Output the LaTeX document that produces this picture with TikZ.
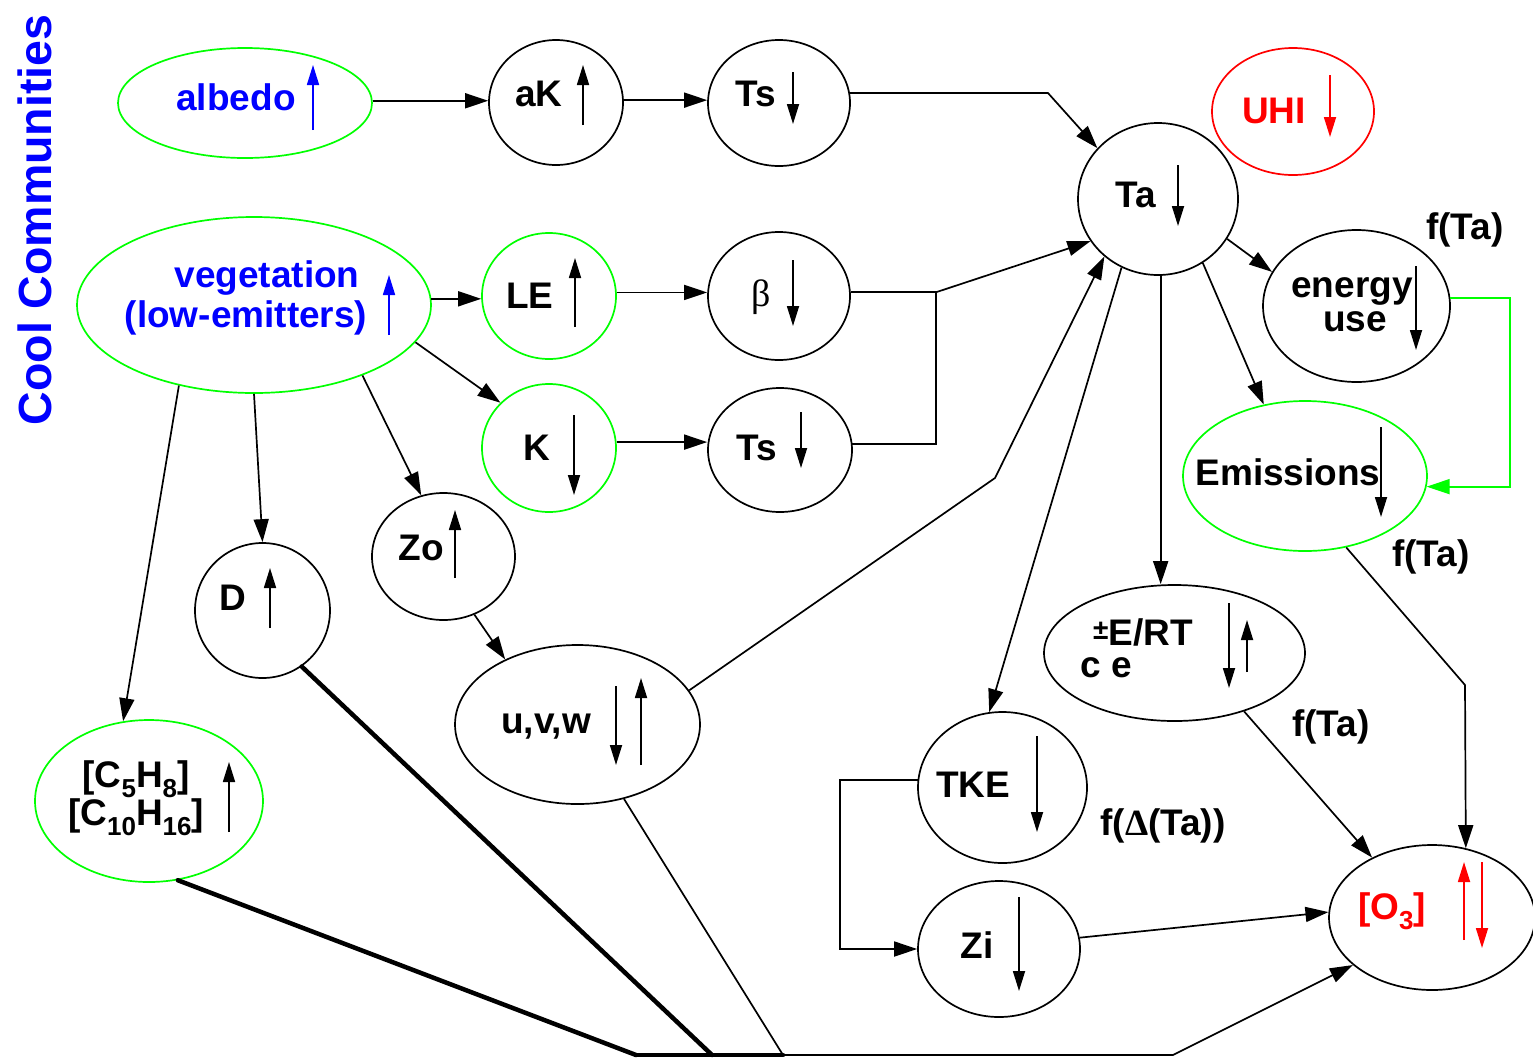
\documentclass[tikz,border=0pt]{standalone}
\usepackage{fontspec}
\setmainfont{Liberation Sans}
\newfontfamily\serifsym{Liberation Serif}
\usetikzlibrary{shapes.geometric,arrows.meta}
\newcommand\lbfont{\fontsize{37}{40}\selectfont\bfseries}
\newcommand\subsc[1]{\raisebox{-0.28em}{\fontsize{26}{26}\selectfont #1}}
\definecolor{pgreen}{RGB}{0,255,0}
\definecolor{pblue}{RGB}{0,0,255}
\definecolor{pred}{RGB}{255,0,0}
\tikzset{
  bub/.style={ellipse, draw=black, line width=1.7pt, inner sep=0pt},
  gbub/.style={bub, draw=pgreen},
  rbub/.style={bub, draw=pred},
  lbl/.style={inner sep=0pt, font=\lbfont},
  conn/.style={line width=1.7pt},
  arr/.style={conn, -{Triangle[length=23pt,width=15pt]}},
  updn/.style={line width=1.7pt, -{Triangle[length=20pt,width=12pt]}},
  thick4/.style={line width=4.5pt, line cap=round},
}
\begin{document}
\begin{tikzpicture}[x=1pt,y=-1pt]
\useasboundingbox (0,0) rectangle (1533,1058);
\fill[white] (0,0) rectangle (1533,1058);

% ---------- nodes (ellipses) ----------
\node[gbub, minimum width=254pt, minimum height=110pt] (albedo) at (245,103) {};
\node[bub,  minimum width=134pt, minimum height=125pt] (aK) at (556,102.5) {};
\node[bub,  minimum width=142pt, minimum height=126pt] (TsA) at (779,103) {};
\node[bub,  minimum width=160pt, minimum height=152pt] (Ta) at (1158,199) {};
\node[rbub, minimum width=162pt, minimum height=127pt] (UHI) at (1293,111.5) {};
\node[gbub, minimum width=354pt, minimum height=176pt] (veg) at (254,305) {};
\node[gbub, minimum width=134pt, minimum height=126pt] (LE) at (549,296) {};
\node[bub,  minimum width=142pt, minimum height=128pt] (beta) at (779,296) {};
\node[gbub, minimum width=134pt, minimum height=128pt] (K) at (549,448) {};
\node[bub,  minimum width=144pt, minimum height=124pt] (TsB) at (780,450) {};
\node[bub,  minimum width=187pt, minimum height=152pt] (en) at (1356.5,306) {};
\node[gbub, minimum width=244pt, minimum height=150pt] (em) at (1305,476) {};
\node[bub,  minimum width=143pt, minimum height=127pt] (Zo) at (443.5,556.5) {};
\node[bub,  minimum width=135pt, minimum height=135pt] (D) at (262.5,610.5) {};
\node[bub,  minimum width=245pt, minimum height=159pt] (uvw) at (577.5,724.5) {};
\node[bub,  minimum width=261pt, minimum height=136pt] (ert) at (1174.5,653) {};
\node[bub,  minimum width=169pt, minimum height=151pt] (tke) at (1002.5,787.5) {};
\node[bub,  minimum width=162pt, minimum height=136pt] (zi) at (999,949) {};
\node[bub,  minimum width=206pt, minimum height=145pt] (O3) at (1432,917.5) {};
\node[gbub, minimum width=228pt, minimum height=162pt] (C) at (149,801) {};

% ---------- texts ----------
\node[lbl, rotate=90, text=pblue, font=\fontsize{46.5}{48}\selectfont\bfseries] (cc) at (35,220) {Cool Communities};
\node[lbl, text=pblue] (talbedo) at (236,97) {albedo};
\node[lbl] (taK) at (539,94) {aK};
\node[lbl] (tTsA) at (756,94) {Ts};
\node[lbl] (tTa) at (1136,195) {Ta};
\node[lbl, text=pred] (tUHI) at (1274,111) {UHI};
\node[lbl, text=pblue] (tveg1) at (267,278) {vegetation};
\node[lbl, text=pblue] (tveg2) at (246,318) {(low-emitters)};
\node[lbl] (tLE) at (530,296) {LE};
\node[lbl, font=\fontsize{38}{40}\selectfont\serifsym] (tbeta) at (761,297) {β};
\node[lbl] (tK) at (537,448) {K};
\node[lbl] (tTsB) at (757,448) {Ts};
\node[lbl] (ten1) at (1352,291) {energy};
\node[lbl] (ten2) at (1355,322) {use};
\node[lbl] (fta1) at (1465,230) {f(Ta)};
\node[lbl] (tem) at (1288,472) {Emissions};
\node[lbl] (fta2) at (1431,557) {f(Ta)};
\node[lbl] (tZo) at (421,548) {Zo};
\node[lbl] (tD) at (233,598) {D};
\node[lbl] (tuvw) at (546,727) {u,v,w};
\node[lbl] (tert1) at (1143,632) {\raisebox{0.15em}{\fontsize{28}{28}\selectfont ±}E/RT};
\node[lbl] (tert2) at (1106,668) {c e};
\node[lbl] (fta3) at (1331,727) {f(Ta)};
\node[lbl] (ttke) at (973,785) {TKE};
\node[lbl] (fdta) at (1163,826) {f({\fontsize{37}{40}\selectfont\serifsym Δ}(Ta))};
\node[lbl] (tzi) at (977,945) {Zi};
\node[lbl, text=pred] (tO3) at (1392,911) {[O\subsc{3}]};
\node[lbl] (tC1) at (136,779) {[C\subsc{5}H\subsc{8}]};
\node[lbl] (tC2) at (136,817) {[C\subsc{10}H\subsc{16}]};

% ---------- inner up/down arrows ----------
\draw[updn, pblue] (313,130) -- (313,65);
\draw[updn] (583,125) -- (583,65);
\draw[updn] (793,72) -- (793,124);
\draw[updn] (1178,165) -- (1178,226);
\draw[updn, pred] (1330,75) -- (1330,137);
\draw[updn, pblue] (389,335) -- (389,275);
\draw[updn] (575,327) -- (575,258);
\draw[updn] (793,260) -- (793,326);
\draw[updn] (574,415) -- (574,495);
\draw[updn] (801,412) -- (801,468);
\draw[updn] (1416,266) -- (1416,350);
\draw[updn] (1381,427) -- (1381,517);
\draw[updn] (455,578) -- (455,510);
\draw[updn] (270,628) -- (270,568);
\draw[updn] (616,686) -- (616,765);
\draw[updn] (641,765) -- (641,678);
\draw[updn] (1229,603) -- (1229,688);
\draw[updn] (1247,672) -- (1247,620);
\draw[updn] (1037,736) -- (1037,832);
\draw[updn] (1019,897) -- (1019,991);
\draw[updn, pred] (1464,940) -- (1464,862);
\draw[updn, pred] (1482,862) -- (1482,948);
\draw[updn] (229,832) -- (229,762);

% ---------- helper coordinates ----------
\coordinate (b1) at (1048,92);
\coordinate (j) at (936,300);
\coordinate (b2) at (995,478);
\coordinate (b3) at (1465,685);
\coordinate (g) at (1510,400);
\coordinate (k) at (840,860);
\coordinate (p1) at (636,1055);
\coordinate (p2) at (712,1055);
\coordinate (p3) at (783,1055);
\coordinate (p4) at (1173,1055);

% ---------- connectors ----------
\draw[arr] (albedo.1) -- (albedo.1 -| aK.west);
\draw[arr] (aK.2) -- (aK.2 -| TsA.west);
\draw[arr] (TsA.8) -- (TsA.8 -| b1) -- (Ta.140);
\draw[arr] (veg.2) -- (veg.2 -| LE.west);
\draw[arr] (LE.3) -- (LE.3 -| beta.west);
\draw[arr] (veg.-13) -- (K.137);
\draw[arr] (K.5) -- (K.5 -| TsB.west);
\draw[conn] (TsB.5) -- (TsB.5 -| j) |- (beta.3);
\draw[arr] (beta.3 -| j) -- (Ta.212);
\draw[arr] (veg.-33) -- (Zo.110);
\draw[arr] (veg.south) -- (D.north);
\draw[arr] (veg.227) -- (C.108);
\draw[arr] (Zo.-62) -- (uvw.138);
\draw[arr] (uvw.17) -- (b2) -- (Ta.227);
\draw[arr] (Ta.-88) -- (Ta.-88 |- ert.north);
\draw[arr] (Ta.-118) -- (tke.100);
\draw[arr] (Ta.-30) -- (en.158);
\draw[arr] (Ta.-55) -- (em.120);
\draw[arr, color=pgreen] (en.5) -| (g |- em.-5) -- (em.-5);
\draw[arr] (em.-60) -- (b3) -- (O3.64);
\draw[arr] (ert.-40) -- (O3.135);
\draw[arr] (tke.175) -| (k |- zi.west) -- (zi.west);
\draw[arr] (zi.8) -- (O3.177);
\draw[thick4] (C.-70) -- (p1);
\draw[thick4] (D.-55) -- (p2);
\draw[thick4] (p1) -- (p3);
\draw[conn] (uvw.-58) -- (p3);
\draw[arr] (p3) -- (p4) -- (O3.211);
\end{tikzpicture}
\end{document}
